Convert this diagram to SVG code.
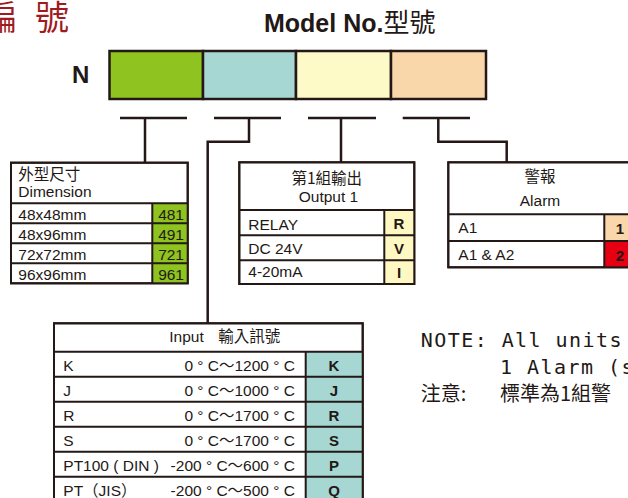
<svg xmlns="http://www.w3.org/2000/svg" width="628" height="498" viewBox="0 0 628 498">
<style>
text{font-family:"Liberation Sans","Noto Sans CJK TC",sans-serif;fill:#231815}
.t{font-size:15.5px}
.cjk{font-family:"Noto Sans CJK TC",sans-serif}
.b{font-weight:bold}
.code{font-family:"Liberation Sans",sans-serif;font-weight:bold;font-size:15px;text-anchor:middle}
.box{fill:#fff;stroke:#231815;stroke-width:2}
.ln{stroke:#231815;stroke-width:2;fill:none}
.con{stroke:#231815;stroke-width:2.5;fill:none}
.note{font-family:"DejaVu Sans Mono",monospace;font-size:20px;letter-spacing:1.45px}
</style>
<g id="title">
<text x="-17" y="30" class="cjk" style="font-size:34px;fill:#9e1b20">編</text>
<text x="35" y="30" class="cjk" style="font-size:34px;fill:#9e1b20">號</text>
<text x="264" y="32" class="b" style="font-size:25px">Model No.<tspan class="cjk" style="font-weight:normal;font-size:26px">型號</tspan></text>
</g>
<g id="model-boxes">
<text x="72" y="83" class="b" style="font-size:24px">N</text>
<rect x="109.5" y="51" width="93.5" height="48" fill="#8fc31f" stroke="#231815" stroke-width="2.5"/>
<rect x="203" y="51" width="93" height="48" fill="#a6d7d3" stroke="#231815" stroke-width="2.5"/>
<rect x="296" y="51" width="95" height="48" fill="#fefac8" stroke="#231815" stroke-width="2.5"/>
<rect x="391" y="51" width="95" height="48" fill="#fad7ab" stroke="#231815" stroke-width="2.5"/>
</g>
<g id="connectors">
<path class="con" d="M120 118H187M145 118V162.7"/>
<path class="con" d="M214 118H281M249 118V141.7H207.7V323.3"/>
<path class="con" d="M308 118H376M341 118V162.3"/>
<path class="con" d="M402.7 118H470M438.3 118V141.7H506.7V162.3"/>
</g>
<g id="dimension">
<rect class="box" x="11" y="162.7" width="176.7" height="120.6"/>
<rect x="152.3" y="203.3" width="35.4" height="80" fill="#8fc31f"/>
<path class="ln" d="M11 203.3H187.7M11 223.3H187.7M11 243.3H187.7M11 263.3H187.7M152.3 203.3V283.3"/>
<rect x="11" y="162.7" width="176.7" height="120.6" fill="none" stroke="#231815" stroke-width="2"/>
<text x="18.3" y="180" class="t cjk">外型尺寸</text>
<text x="18.3" y="196.5" class="t">Dimension</text>
<text x="18.3" y="220" class="t">48x48mm</text>
<text x="18.3" y="240" class="t">48x96mm</text>
<text x="18.3" y="260" class="t">72x72mm</text>
<text x="18.3" y="280" class="t">96x96mm</text>
<text x="184" y="220" class="t" text-anchor="end">481</text>
<text x="184" y="240" class="t" text-anchor="end">491</text>
<text x="184" y="260" class="t" text-anchor="end">721</text>
<text x="184" y="280" class="t" text-anchor="end">961</text>
</g>
<g id="output1">
<rect class="box" x="239.3" y="162.3" width="175" height="121.7"/>
<rect x="384.3" y="210" width="30" height="74" fill="#fff8c2"/>
<path class="ln" d="M239.3 210H414.3M239.3 235.3H414.3M239.3 260.3H414.3M384.3 210V284"/>
<rect x="239.3" y="162.3" width="175" height="121.7" fill="none" stroke="#231815" stroke-width="2"/>
<text x="326.8" y="184" class="t cjk" text-anchor="middle">第1組輸出</text>
<text x="328.5" y="201.7" class="t" text-anchor="middle">Output 1</text>
<text x="248.3" y="230" class="t">RELAY</text>
<text x="248.3" y="254" class="t">DC 24V</text>
<text x="248.3" y="277" class="t">4-20mA</text>
<text x="399" y="229" class="code">R</text>
<text x="399" y="254" class="code">V</text>
<text x="399" y="278" class="code">I</text>
</g>
<g id="alarm">
<rect class="box" x="448.3" y="162.3" width="186" height="105"/>
<rect x="604.3" y="214.3" width="30" height="26.7" fill="#fad7ab"/>
<rect x="604.3" y="241" width="30" height="26.3" fill="#e60012"/>
<path class="ln" d="M448.3 214.3H634M448.3 241H634M604.3 214.3V267.3"/>
<rect x="448.3" y="162.3" width="186" height="105" fill="none" stroke="#231815" stroke-width="2"/>
<text x="540" y="182.3" class="t cjk" text-anchor="middle">警報</text>
<text x="540" y="206" class="t" text-anchor="middle">Alarm</text>
<text x="458.3" y="233.3" class="t">A1</text>
<text x="458.3" y="260" class="t">A1 &amp; A2</text>
<text x="620" y="234" class="code">1</text>
<text x="620" y="261" class="code">2</text>
</g>
<g id="input">
<rect class="box" x="54" y="323.3" width="308.7" height="178.4"/>
<rect x="305.7" y="351.7" width="57" height="150" fill="#a6d7d3"/>
<path class="ln" d="M54 351.7H362.7M54 376.7H362.7M54 401.7H362.7M54 426.7H362.7M54 451.7H362.7M54 476.7H362.7M305.7 351.7V501.7"/>
<rect x="54" y="323.3" width="308.7" height="178.4" fill="none" stroke="#231815" stroke-width="2"/>
<text x="169.3" y="342.3" class="t">Input</text>
<text x="218.3" y="342.3" class="t cjk">輸入訊號</text>
<text x="63.3" y="370.7" class="t">K</text>
<text x="63.3" y="395.7" class="t">J</text>
<text x="63.3" y="420.7" class="t">R</text>
<text x="63.3" y="445.7" class="t">S</text>
<text x="63.3" y="470.7" class="t">PT100 ( DIN )</text>
<text x="63.3" y="495.7" class="t">PT（JIS）</text>
<text x="295" y="370.7" class="t" text-anchor="end">0 ° C～1200 ° C</text>
<text x="295" y="395.7" class="t" text-anchor="end">0 ° C～1000 ° C</text>
<text x="295" y="420.7" class="t" text-anchor="end">0 ° C～1700 ° C</text>
<text x="295" y="445.7" class="t" text-anchor="end">0 ° C～1700 ° C</text>
<text x="295" y="470.7" class="t" text-anchor="end">-200 ° C～600 ° C</text>
<text x="295" y="495.7" class="t" text-anchor="end">-200 ° C～500 ° C</text>
<text x="334" y="370.5" class="code">K</text>
<text x="334" y="395.5" class="code">J</text>
<text x="334" y="420.5" class="code">R</text>
<text x="334" y="445.5" class="code">S</text>
<text x="334" y="470.5" class="code">P</text>
<text x="334" y="495.5" class="code">Q</text>
</g>
<g id="note">
<text x="420.7" y="347" class="note">NOTE: All units</text>
<text x="500" y="374" class="note">1 Alarm (s</text>
<text x="420.7" y="401" class="cjk" style="font-size:20px">注意:</text>
<text x="500" y="401" class="cjk" style="font-size:20px">標準為1組警</text>
</g>
</svg>
